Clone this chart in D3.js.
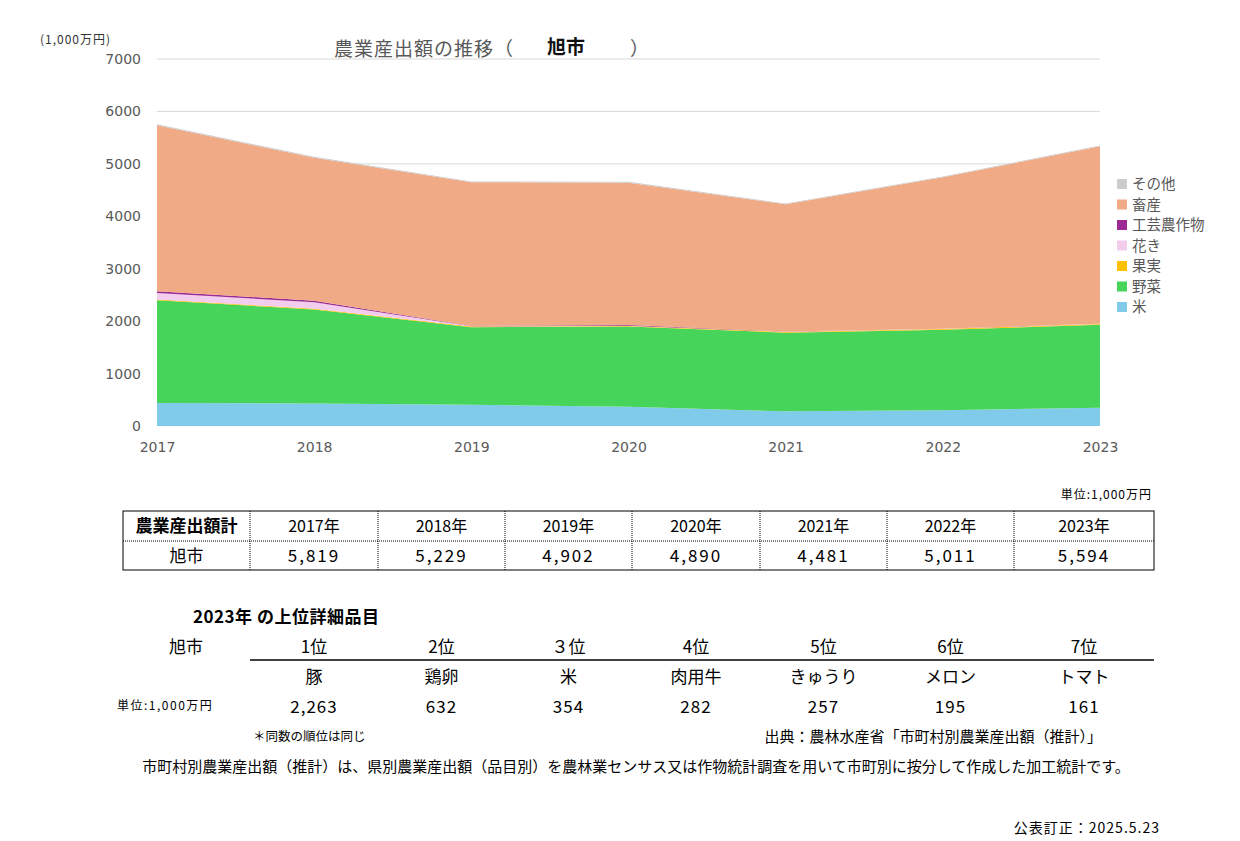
<!DOCTYPE html>
<html><head><meta charset="utf-8">
<script src="https://cdn.jsdelivr.net/npm/d3@7"></script>
<style>
body{margin:0;background:#fff;}
</style></head>
<body><svg id="c" width="1240" height="841"></svg>
<script>
const years = [2017, 2018, 2019, 2020, 2021, 2022, 2023];
const seriesNames = ["米", "野菜", "果実", "花き", "工芸農作物", "畜産", "その他"];
const rice      = [440, 430, 405, 367, 280, 300, 350];
const vegetable = [1960, 1790, 1480, 1530, 1500, 1535, 1580];
const fruit     = [15, 15, 12, 10, 15, 15, 15];
const flowers   = [120, 125, 5, 5, 3, 3, 3];
const industrial= [35, 30, 5, 15, 3, 3, 3];
const livestock = [3165, 2726, 2743, 2713, 2429, 2889, 3384];
const other     = [20, 20, 15, 20, 15, 15, 15];
const yTicks = [0, 1000, 2000, 3000, 4000, 5000, 6000, 7000];
const colors = ["#80CBEA", "#47D45A", "#FFC000", "#F3CDEE", "#9C2A94", "#F0AA85", "#CCCCCC"];

const tableYears = ["2017年","2018年","2019年","2020年","2021年","2022年","2023年"];
const tableTotals = ["5,819","5,229","4,902","4,890","4,481","5,011","5,594"];
const ranks = ["1位","2位","３位","4位","5位","6位","7位"];
const rankItems = ["豚","鶏卵","米","肉用牛","きゅうり","メロン","トマト"];
const rankValues = ["2,263","632","354","282","257","195","161"];

const JP = '"Noto Sans CJK JP","Noto Sans",sans-serif';
const svg = d3.select("#c").style("font-family", JP);
const x = d3.scalePoint().domain(years).range([157, 1100]);
const y = d3.scaleLinear().domain([0, 7000]).range([426, 59]);

// gridlines
svg.append("g").selectAll("line").data(yTicks.filter(d=>d>0)).join("line")
  .attr("x1", 157).attr("x2", 1100).attr("y1", d=>y(d)).attr("y2", d=>y(d))
  .attr("stroke", "#d9d9d9").attr("stroke-width", 1);

// stacked data
const rows = years.map((yr,i)=>({year:yr, "米":rice[i], "野菜":vegetable[i], "果実":fruit[i], "花き":flowers[i], "工芸農作物":industrial[i], "畜産":livestock[i], "その他":other[i]}));
const stack = d3.stack().keys(seriesNames)(rows);
const area = d3.area().x(d=>x(d.data.year)).y0(d=>y(d[0])).y1(d=>y(d[1]));
svg.append("g").selectAll("path").data(stack).join("path")
  .attr("d", area).attr("fill", (d,i)=>colors[i]);

// y axis labels
const yAxis = d3.axisLeft(y).tickValues(yTicks).tickSize(0).tickPadding(0).tickFormat(d3.format("d"));
const ya = svg.append("g").attr("transform","translate(141,0)").call(yAxis);
ya.select(".domain").remove();
ya.selectAll("text").style("font-family","DejaVu Sans").style("font-size","14px").attr("fill","#595959");

// x axis labels
const xAxis = d3.axisBottom(x).tickSize(0).tickPadding(0).tickFormat(d3.format("d"));
const xa = svg.append("g").attr("transform","translate(0,442)").call(xAxis);
xa.select(".domain").remove();
xa.selectAll("text").style("font-family","DejaVu Sans").style("font-size","14px").attr("fill","#595959");

// unit and title
svg.append("text").attr("x",40).attr("y",44).style("font-size","12px").style("letter-spacing","1px").attr("fill","#333").text("(1,000万円)");
svg.append("text").attr("x",334).attr("y",56).style("font-size","19px").style("letter-spacing","1px").attr("fill","#595959").text("農業産出額の推移（");
svg.append("text").attr("x",547).attr("y",54).style("font-size","19px").attr("fill","#111").attr("font-weight","bold").text("旭市");
svg.append("text").attr("x",630).attr("y",56).style("font-size","19px").attr("fill","#595959").text("）");

// legend
const legOrder = seriesNames.map((n,i)=>({n, c:colors[i]})).reverse();
const lg = svg.append("g").selectAll("g").data(legOrder).join("g")
  .attr("transform",(d,i)=>`translate(1117,${184 + i*20.5})`);
lg.append("rect").attr("x",0).attr("y",-5).attr("width",10).attr("height",10).attr("fill",d=>d.c);
lg.append("text").attr("x",15).attr("y",5).style("font-size","14.5px").attr("fill","#595959").text(d=>d.n);

// table
const colX = [123, 250, 378, 505, 632, 760, 887, 1014, 1154];
const tg = svg.append("g");
tg.append("rect").attr("x",123).attr("y",511).attr("width",1031).attr("height",59)
  .attr("fill","none").attr("stroke","#000").attr("stroke-width",1);
tg.append("line").attr("x1",123).attr("x2",1154).attr("y1",541).attr("y2",541)
  .attr("stroke","#000").attr("stroke-dasharray","1,1");
tg.selectAll("line.v").data(colX.slice(1,-1)).join("line").attr("class","v")
  .attr("x1",d=>d).attr("x2",d=>d).attr("y1",511).attr("y2",570)
  .attr("stroke","#000").attr("stroke-dasharray","1,1");
const colC = colX.slice(0,-1).map((c,i)=>(c+colX[i+1])/2);
tg.append("text").attr("x",colC[0]).attr("y",532).attr("text-anchor","middle").style("font-size","17px").attr("font-weight","bold").attr("fill","#000").text("農業産出額計");
tg.selectAll("text.yr").data(tableYears).join("text").attr("class","yr")
  .attr("x",(d,i)=>colC[i+1]).attr("y",532).attr("text-anchor","middle").style("font-size","16px").attr("fill","#000").text(d=>d);
tg.append("text").attr("x",colC[0]).attr("y",562).attr("text-anchor","middle").style("font-size","17px").attr("fill","#000").text("旭市");
tg.selectAll("text.val").data(tableTotals).join("text").attr("class","val")
  .attr("x",(d,i)=>colC[i+1]).attr("y",562).attr("text-anchor","middle").style("font-size","17px").style("letter-spacing","2px").attr("fill","#000").text(d=>d);
svg.append("text").attr("x",1152).attr("y",499).attr("text-anchor","end").style("font-size","12px").style("letter-spacing","1px").attr("fill","#000").text("単位:1,000万円");

// ranking
svg.append("text").attr("x",193).attr("y",623).style("font-size","17px").style("letter-spacing","0.5px").attr("font-weight","bold").attr("fill","#000").text("2023年 の上位詳細品目");
svg.append("text").attr("x",186).attr("y",653).attr("text-anchor","middle").style("font-size","17px").attr("fill","#000").text("旭市");
svg.append("line").attr("x1",250).attr("x2",1154).attr("y1",660).attr("y2",660).attr("stroke","#000").attr("stroke-width",1.3);
svg.selectAll("text.rk").data(ranks).join("text").attr("class","rk")
  .attr("x",(d,i)=>colC[i+1]).attr("y",653).attr("text-anchor","middle").style("font-size","17px").attr("fill","#000").text(d=>d);
svg.selectAll("text.it").data(rankItems).join("text").attr("class","it")
  .attr("x",(d,i)=>colC[i+1]).attr("y",683).attr("text-anchor","middle").style("font-size","17px").attr("fill","#000").text(d=>d);
svg.selectAll("text.rv").data(rankValues).join("text").attr("class","rv")
  .attr("x",(d,i)=>colC[i+1]).attr("y",713).attr("text-anchor","middle").style("font-size","17px").style("letter-spacing","1px").attr("fill","#000").text(d=>d);
svg.append("text").attr("x",117).attr("y",710).style("font-size","12px").style("letter-spacing","1.5px").attr("fill","#000").text("単位:1,000万円");
svg.append("text").attr("x",253).attr("y",741).style("font-size","12.5px").attr("fill","#000").text("＊同数の順位は同じ");
svg.append("text").attr("x",1102).attr("y",742).attr("text-anchor","end").style("font-size","15px").attr("fill","#000").text("出典：農林水産省「市町村別農業産出額（推計）」");
svg.append("text").attr("x",636).attr("y",772).attr("text-anchor","middle").style("font-size","15px").attr("fill","#000")
  .text("市町村別農業産出額（推計）は、県別農業産出額（品目別）を農林業センサス又は作物統計調査を用いて市町別に按分して作成した加工統計です。");
svg.append("text").attr("x",1160).attr("y",833).attr("text-anchor","end").style("font-size","14px").style("letter-spacing","1px").attr("fill","#000").text("公表訂正：2025.5.23");
</script></body></html>
